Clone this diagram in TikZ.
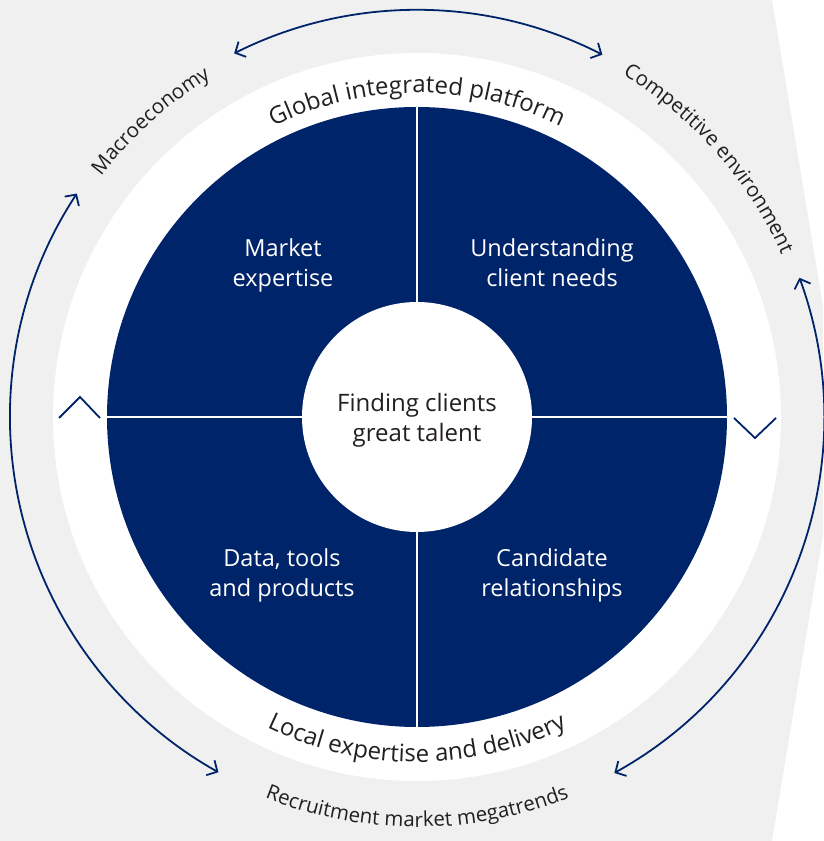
\documentclass[tikz,border=0pt]{standalone}
\usepackage{fontspec}
\setmainfont{Open Sans}
\usetikzlibrary{arrows.meta,decorations.text,calc}
\definecolor{navy}{RGB}{0,36,105}
\definecolor{bggray}{RGB}{240,240,240}
\definecolor{ink}{RGB}{35,31,32}
\newcommand\ringfnt{\fontsize{24}{24}\selectfont}
\newcommand\outerfnt{\fontsize{20.5}{20.5}\selectfont}
\begin{document}
\begin{tikzpicture}[x=1pt,y=1pt,
  quadlabel/.style={align=center,anchor=base,text=white,font=\fontsize{23.5}{30}\selectfont},
  centrelabel/.style={align=center,anchor=base,text=ink,font=\fontsize{24}{30.5}\selectfont},
  cyclearrow/.style={draw=navy,line width=1.8pt,{Straight Barb[length=8pt,width=17pt]}-{Straight Barb[length=8pt,width=17pt]}},
  chevron/.style={draw=navy,line width=1.8pt},
  divider/.style={draw=white,line width=2.6pt},
  ringtext/.style={decorate,decoration={text along path,text align=center,text color=ink,text={|\ringfnt|#1}}},
  outertext/.style={decorate,decoration={text along path,text align=center,text color=ink,text={|\outerfnt|#1}}}
]
\useasboundingbox (0,0) rectangle (823,841);
\fill[white] (0,0) rectangle (823,841);
\fill[bggray] (0,0) -- (772,0) -- (823,306) -- (823,535) -- (772,841) -- (0,841) -- cycle;

\coordinate (O) at (417,424);
% rings
\fill[white] (O) circle[radius=364];
\fill[navy] (O) circle[radius=310];
\coordinate (dl) at ($(O)+(-310,0)$);
\coordinate (dr) at ($(O)+(310,0)$);
\coordinate (dt) at ($(O)+(0,310)$);
\coordinate (db) at ($(O)+(0,-310)$);
\draw[divider] (dl) -- (dr);
\draw[divider] (dt) -- (db);
\fill[white] (O) circle[radius=115];

% quadrant labels (anchor = baseline of last line)
\node[quadlabel] (market) at ($(O)+(-134,130)$) {Market\\expertise};
\node[quadlabel] (client) at ($(O)+(135,130)$) {Understanding\\client needs};
\node[quadlabel] (data) at ($(O)+(-135,-180)$) {Data, tools\\and products};
\node[quadlabel] (cand) at ($(O)+(135,-180)$) {Candidate\\relationships};
\node[centrelabel] (core) at ($(O)+(0,-25)$) {Finding clients\\great talent};

% ring texts
\path[ringtext={Global integrated platform}] ($(O)+(160:324)$) arc[start angle=160,end angle=20,radius=324];
\path[ringtext={Local expertise and delivery}] ($(O)+(200:345)$) arc[start angle=200,end angle=340,radius=345];

% outer texts
\path[outertext={Macroeconomy}] ($(O)+(165:397)$) arc[start angle=165,end angle=99,radius=397];
\path[outertext={Competitive environment}] ($(O)+(80:399)$) arc[start angle=80,end angle=3,radius=399];
\path[outertext={Recruitment market megatrends}] ($(O)+(235:410)$) arc[start angle=235,end angle=305,radius=410];

% chevrons
\coordinate (cl1) at ($(O)+(-358,-1)$);
\coordinate (cl2) at ($(O)+(-337,20)$);
\coordinate (cl3) at ($(O)+(-317,-1)$);
\draw[chevron] (cl1) -- (cl2) -- (cl3);
\coordinate (cr1) at ($(O)+(317,-1)$);
\coordinate (cr2) at ($(O)+(338,-21)$);
\coordinate (cr3) at ($(O)+(359,-1)$);
\draw[chevron] (cr1) -- (cr2) -- (cr3);

% cycle arrows
\coordinate (topA) at ($(O)+(116.7:407)$);
\coordinate (leftA) at ($(O)+(146.7:407)$);
\coordinate (rightA) at ($(O)+(20:407)$);
\draw[cyclearrow] (topA) arc[start angle=116.7,end angle=62.9,radius=407];
\draw[cyclearrow] (leftA) arc[start angle=146.7,end angle=240.8,radius=407];
\draw[cyclearrow] (rightA) arc[start angle=20,end angle=-61,radius=407];
\end{tikzpicture}
\end{document}
